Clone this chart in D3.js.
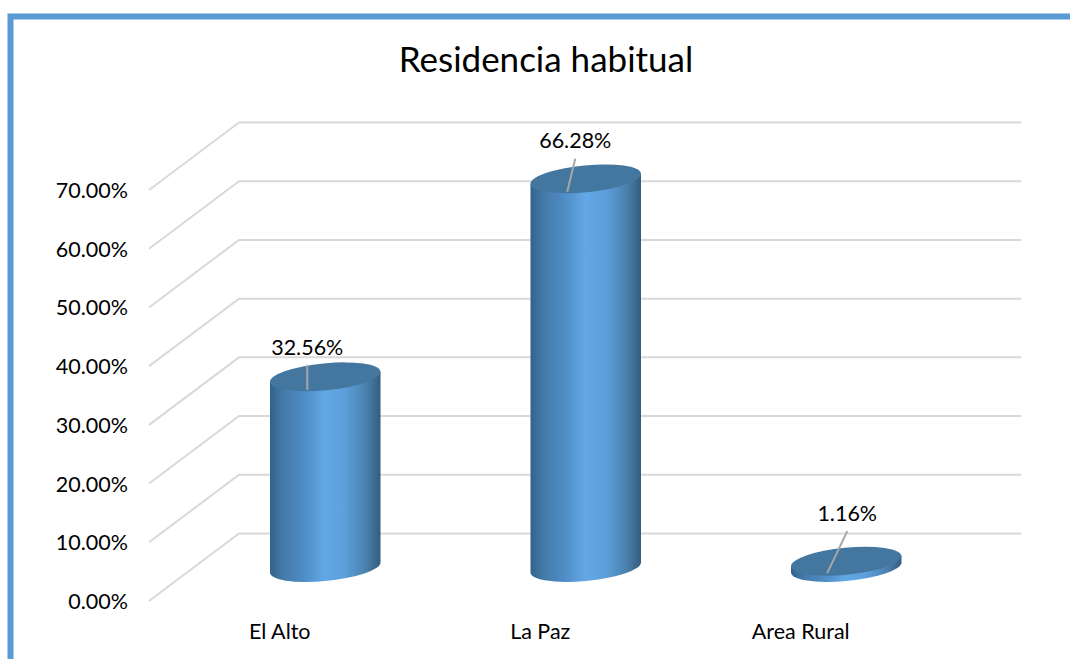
<!DOCTYPE html>
<html><head><meta charset="utf-8">
<script src="https://cdn.jsdelivr.net/npm/d3@7/dist/d3.min.js"></script>
<style>html,body{margin:0;padding:0;background:#fff}svg{display:block}text{font-family:"Lato",sans-serif;fill:#000}</style>
</head><body><svg id="c" width="1070" height="659"></svg>
<script>
const title = "Residencia habitual";
const categories = ["El Alto", "La Paz", "Area Rural"];
const values = [32.56, 66.28, 1.16];
const valueLabels = ["32.56%", "66.28%", "1.16%"];
const tickValues = [0, 10, 20, 30, 40, 50, 60, 70];

// layout
const W = 1070, H = 659;
const depth = {dx: 90, dy: -67.5};
const mid = {dx: 44.5, dy: -33};
const rx = 55.5, ry = 13.5, tilt = -5.5;
const labelOffsets = [ {lx:-18, ly:-22, x1:-18, y1:-12, x2:-18, y2:13},
                       {lx:-10.5, ly:-31, x1:-10.5, y1:-20, x2:-18.5, y2:13},
                       {lx:1, ly:-41, x1:1, y1:-30, x2:-19, y2:12} ];

const svg = d3.select("#c");
const y = d3.scaleLinear().domain([0,70]).range([601,190]);
const x = d3.scaleBand().domain(categories).range([150.5,932]);
const fmt = d3.format(".2f");

const defs = svg.append("defs");

// frame
svg.append("path").attr("d",`M10.5 ${H} V16.5 H${W}`).attr("fill","none").attr("stroke","#5b9bd5").attr("stroke-width",6);
svg.append("path").attr("d",`M7.5 ${H} V13.5 H${W}`).attr("fill","none").attr("stroke","#a9cbe8").attr("stroke-width",1);

// title
svg.append("text").attr("x",546).attr("y",72).attr("text-anchor","middle").attr("font-size",35).text(title);

// gridlines
svg.append("g").selectAll("polyline").data(tickValues).join("polyline")
  .attr("points",d=>[[149,y(d)],[149+depth.dx,y(d)+depth.dy],[1021,y(d)+depth.dy]].join(" "))
  .attr("fill","none").attr("stroke","#d9d9d9").attr("stroke-width",2);

// tick labels
svg.append("g").selectAll("text").data(tickValues).join("text")
  .attr("x",128).attr("y",d=>y(d)+8).attr("text-anchor","end").attr("font-size",21.5)
  .text(d=>fmt(d)+"%");

// category labels
svg.append("g").selectAll("text").data(categories).join("text")
  .attr("x",d=>x(d)+x.bandwidth()/2-1).attr("y",638.5).attr("text-anchor","middle").attr("font-size",21.5)
  .text(d=>d);

// cylinders
const a = tilt*Math.PI/180;
const t0 = Math.atan(-(ry/rx)*Math.tan(a));
const ext = {x: rx*Math.cos(t0)*Math.cos(a)-ry*Math.sin(t0)*Math.sin(a),
             y: rx*Math.cos(t0)*Math.sin(a)+ry*Math.sin(t0)*Math.cos(a)};

function grad(id, x0, x1){
  const g = defs.append("linearGradient").attr("id",id).attr("gradientUnits","userSpaceOnUse")
    .attr("x1",x0).attr("x2",x1).attr("y1",0).attr("y2",0);
  [[0,"#33628c"],[.12,"#447aa8"],[.3,"#4e8cc4"],[.5,"#62a8e6"],[.68,"#5c9fdb"],[.87,"#4a80ad"],[1,"#355c7e"]]
    .forEach(s=>g.append("stop").attr("offset",s[0]).attr("stop-color",s[1]));
}

const gBars = svg.append("g");
categories.forEach((c,i)=>{
  const v = values[i];
  const cx = x(c)+x.bandwidth()/2+mid.dx;
  const base = y(0)+mid.dy-0.5, top = y(v)+mid.dy;
  grad("g"+i,cx-ext.x,cx+ext.x);
  gBars.append("path")
    .attr("d",`M${cx-ext.x} ${top-ext.y} L${cx-ext.x} ${base-ext.y} A${rx} ${ry} ${tilt} 0 0 ${cx+ext.x} ${base+ext.y} L${cx+ext.x} ${top+ext.y} Z`)
    .attr("fill",`url(#g${i})`);
  gBars.append("ellipse")
    .attr("cx",cx).attr("cy",top).attr("rx",rx).attr("ry",ry)
    .attr("transform",`rotate(${tilt} ${cx} ${top})`)
    .attr("fill","#44779f");
  const o = labelOffsets[i];
  gBars.append("line").attr("x1",cx+o.x1).attr("y1",top+o.y1).attr("x2",cx+o.x2).attr("y2",top+o.y2)
    .attr("stroke","#a6a6a6").attr("stroke-width",2);
  gBars.append("text").attr("x",cx+o.lx).attr("y",top+o.ly+0.5).attr("text-anchor","middle").attr("font-size",21.5)
    .text(valueLabels[i]);
});
</script></body></html>
